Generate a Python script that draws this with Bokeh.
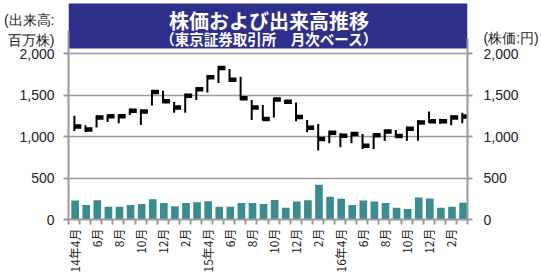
import math
from bokeh.plotting import figure
from bokeh.models import (ColumnDataSource, Range1d, LinearAxis, FixedTicker,
                          BoxAnnotation, Label, NumeralTickFormatter)
from bokeh.transform import dodge
from bokeh.embed import file_html
from bokeh.resources import INLINE

# ---- data ----
month_idx = list(range(36))  # 2014/4 .. 2017/3
tick_positions = list(range(0, 36, 2))
tick_labels = ["14年4月", "6月", "8月", "10月", "12月", "2月",
               "15年4月", "6月", "8月", "10月", "12月", "2月",
               "16年4月", "6月", "8月", "10月", "12月", "2月"]
volume = [228, 175, 232, 155, 155, 175, 187, 244, 199, 159, 199, 208,
          220, 155, 155, 199, 199, 187, 236, 142, 216, 232, 419, 273,
          250, 175, 228, 216, 199, 142, 126, 265, 252, 142, 155, 203]
high = [1250, 1135, 1255, 1265, 1268, 1335, 1325, 1560, 1550, 1415, 1515, 1595,
        1740, 1850, 1815, 1720, 1440, 1380, 1468, 1440, 1410, 1200, 1150, 1070,
        1040, 1055, 1030, 1040, 1085, 1080, 1120, 1195, 1300, 1215, 1255, 1285]
low = [1065, 1055, 1110, 1175, 1160, 1260, 1140, 1375, 1405, 1285, 1285, 1440,
       1530, 1645, 1658, 1440, 1200, 1195, 1228, 1395, 1183, 1050, 830, 920,
       870, 920, 850, 850, 945, 985, 950, 950, 1165, 1150, 1135, 1160]
close = [1120, 1085, 1230, 1245, 1245, 1310, 1300, 1535, 1425, 1350, 1490, 1570,
         1715, 1825, 1685, 1462, 1350, 1210, 1445, 1418, 1235, 1105, 970, 1045,
         1010, 1030, 888, 1015, 1060, 1005, 1095, 1170, 1185, 1185, 1228, 1240]
y_ticks = [0, 500, 1000, 1500, 2000]
left_unit_text = "(出来高:\n百万株)"
right_unit_text = "(株価:円)"

src = ColumnDataSource(dict(x=month_idx, volume=volume, high=high, low=low, close=close))

GRAY = "#9a9a9a"
CJK = "Noto Sans CJK JP"
LAT = "Liberation Sans"

p = figure(width=541, height=275, x_range=Range1d(-0.5, 35.5), y_range=Range1d(0, 2639),
           output_backend="svg", toolbar_location=None,
           min_border_left=68, min_border_right=70, min_border_top=0, min_border_bottom=56)
p.outline_line_color = None
p.background_fill_color = "white"
p.border_fill_color = "white"

# banner
p.add_layout(BoxAnnotation(bottom=2060, top=2602, fill_color="#2d2f8a", fill_alpha=1.0,
                           line_color=None, level="underlay"))

# grid
p.xgrid.visible = False
p.ygrid.ticker = FixedTicker(ticks=y_ticks)
p.ygrid.grid_line_color = GRAY
p.ygrid.grid_line_width = 1.5

# volume bars
p.vbar(x=dodge("x", 0.1), top="volume", width=0.69, source=src,
       fill_color="#3a8c90", line_color=None)

# candles (high-low line + close marker)
p.segment(x0=dodge("x", 0.03), y0="high", x1=dodge("x", 0.03), y1="low", source=src,
          line_color="black", line_width=2)
p.rect(x=dodge("x", 0.33), y="close", width=0.66, height=4.5, height_units="screen",
       source=src, fill_color="black", line_color=None)

# y axes: numbers + unit caption as an extra (tick-less) label at the top
def style_y(ax, unit_pos, unit_text, standoff):
    ax.ticker = FixedTicker(ticks=y_ticks + [unit_pos], minor_ticks=y_ticks)
    ax.formatter = NumeralTickFormatter(format="0,0")
    ax.major_label_overrides = {unit_pos: unit_text}
    ax.bounds = (0, unit_pos)
    ax.axis_line_color = GRAY
    ax.axis_line_width = 2
    ax.major_tick_line_color = None
    ax.major_tick_out = 0
    ax.major_tick_in = 0
    ax.minor_tick_line_color = GRAY
    ax.minor_tick_line_width = 2
    ax.minor_tick_out = 5
    ax.minor_tick_in = 0
    ax.major_label_standoff = standoff
    ax.major_label_text_font = LAT
    ax.major_label_text_font_size = "14px"
    ax.major_label_text_color = "#222222"

style_y(p.yaxis[0], 2283, left_unit_text, 9)
ax_r = LinearAxis()
style_y(ax_r, 2187, right_unit_text, 11)
p.add_layout(ax_r, "right")

xa = p.xaxis[0]
xa.ticker = FixedTicker(ticks=tick_positions, minor_ticks=[i - 0.5 for i in range(37)])
xa.major_label_overrides = {t: l for t, l in zip(tick_positions, tick_labels)}
xa.major_label_orientation = math.pi / 2
xa.major_tick_out = 0
xa.major_tick_in = 0
xa.minor_tick_out = 5
xa.minor_tick_in = 0
xa.minor_tick_line_color = GRAY
xa.minor_tick_line_width = 2
xa.axis_line_color = GRAY
xa.axis_line_width = 2
xa.major_label_standoff = 4
xa.major_label_text_font = CJK
xa.major_label_text_font_size = "12px"
xa.major_label_text_color = "#222222"

# titles (inside the frame, on the banner)
p.add_layout(Label(x=17.6, y=2398, text="株価および出来高推移", text_align="center",
                   text_baseline="middle", text_color="white", text_font=CJK,
                   text_font_size="20px", text_font_style="bold"))
p.add_layout(Label(x=17.6, y=2187, text="（東京証券取引所　月次ベース）", text_align="center",
                   text_baseline="middle", text_color="white", text_font=CJK,
                   text_font_size="14.5px", text_font_style="bold"))

open("out.html", "w").write(file_html(p, INLINE))
